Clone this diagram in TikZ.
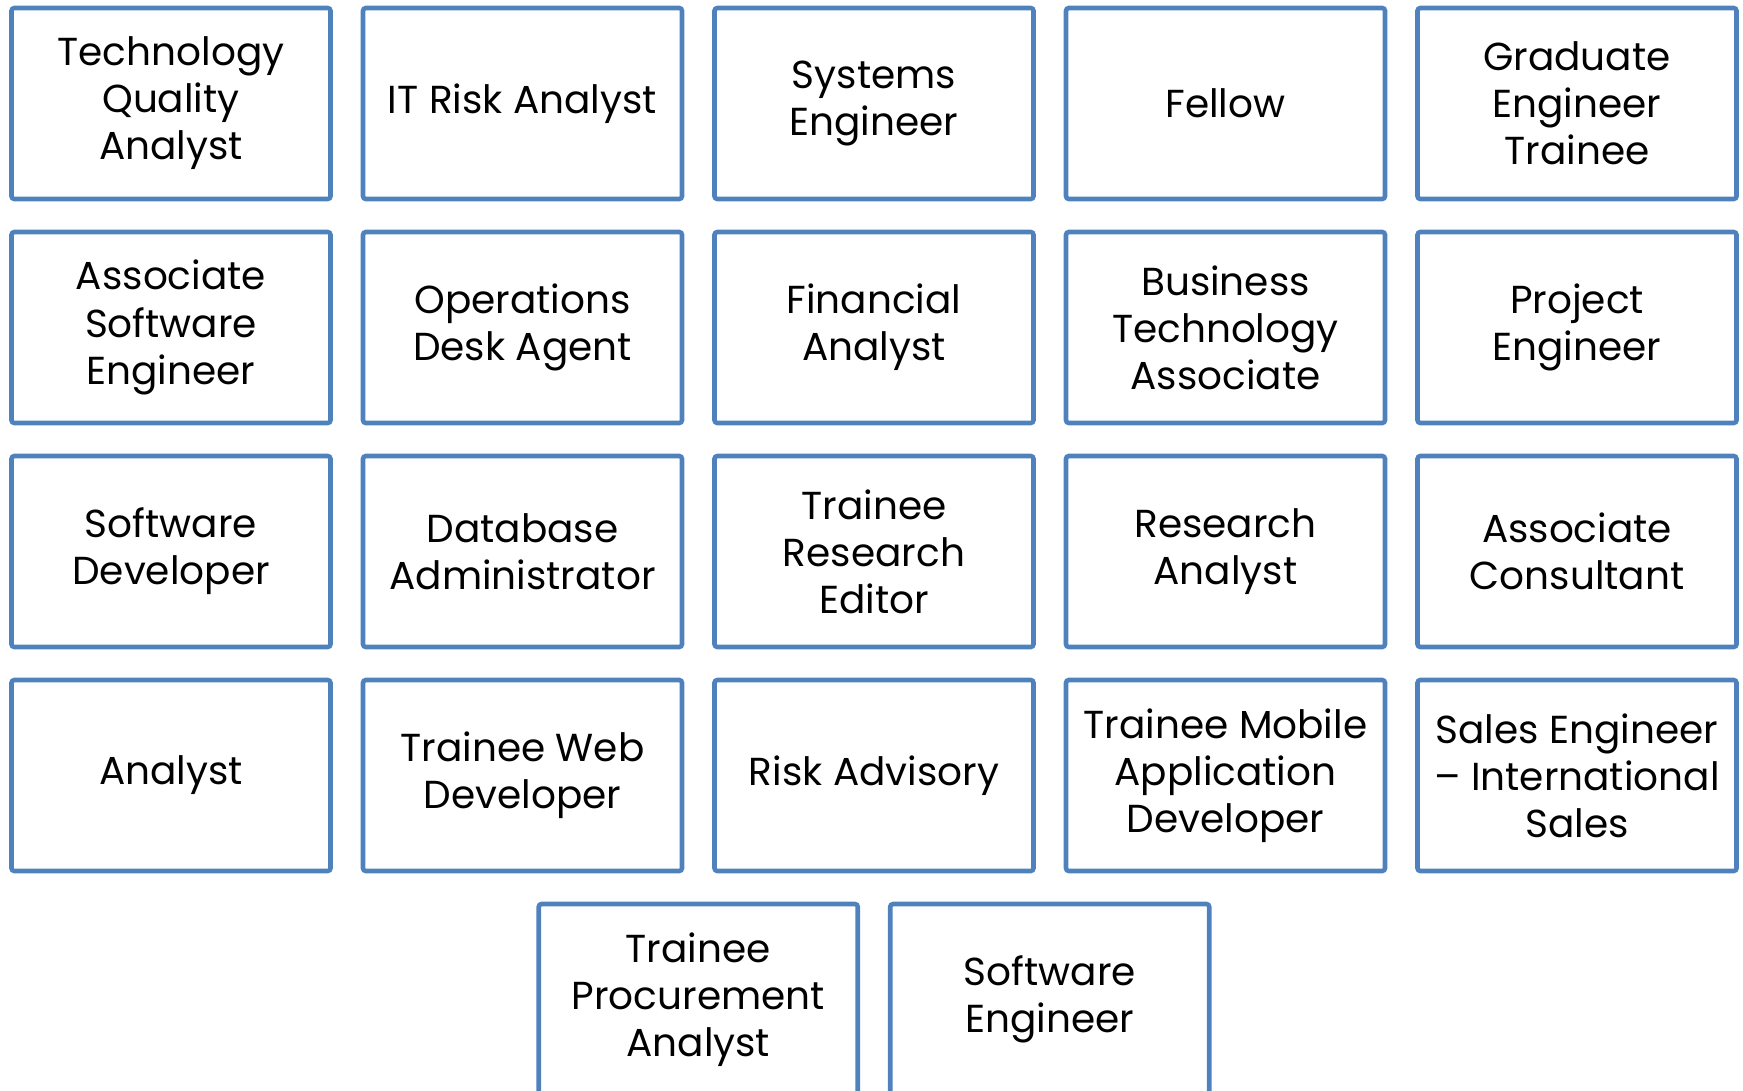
\documentclass[tikz,border=0pt]{standalone}
\usepackage{fontspec}
\setmainfont{Poppins}
\usetikzlibrary{positioning}
\definecolor{boxblue}{HTML}{4F81BD}

\begin{document}
\begin{tikzpicture}[node distance=0.33cm and 0.325cm]
      \tikzstyle{role}=[rectangle,draw=boxblue,line width=1.3pt,rounded corners=0.8pt,minimum width=3.19cm,minimum height=1.91cm,inner sep=0pt,outer sep=0pt,align=center,font=\fontsize{11.1}{13.4}\selectfont]
      \tikzstyle{every node}=[role]
      \clip (0,0) rectangle (17.43,-10.91);
      \useasboundingbox (0,0) rectangle (17.43,-10.91);
      % first row
      \node (tqa) at (1.71,-1.035) {Technology\\Quality\\Analyst};
      \node (itra) [right=of tqa] {IT Risk Analyst};
      \node (syse) [right=of itra] {Systems\\Engineer};
      \node (fel) [right=of syse] {Fellow};
      \node (get) [right=of fel] {Graduate\\Engineer\\Trainee};
      % second row
      \node (ase) [below=of tqa] {Associate\\Software\\Engineer};
      \node (oda) [below=of itra] {Operations\\Desk Agent};
      \node (fa) [below=of syse] {Financial\\Analyst};
      \node (bta) [below=of fel] {Business\\Technology\\Associate};
      \node (pe) [below=of get] {Project\\Engineer};
      % third row
      \node (sd) [below=of ase] {Software\\Developer};
      \node (dba) [below=of oda] {Database\\Administrator};
      \node (tre) [below=of fa] {Trainee\\Research\\Editor};
      \node (ra) [below=of bta] {Research\\Analyst};
      \node (ac) [below=of pe] {Associate\\Consultant};
      % fourth row
      \node (an) [below=of sd] {Analyst};
      \node (twd) [below=of dba] {Trainee Web\\Developer};
      \node (risk) [below=of tre] {Risk Advisory};
      \node (tmad) [below=of ra] {Trainee Mobile\\Application\\Developer};
      \node (seis) [below=of ac] {Sales Engineer\\-- International\\Sales};
      % last row, half a step to the right
      \node (tpa) [below=of twd,xshift=1.7575cm] {Trainee\\Procurement\\Analyst};
      \node (swe) [right=of tpa] {Software\\Engineer};
\end{tikzpicture}
\end{document}
